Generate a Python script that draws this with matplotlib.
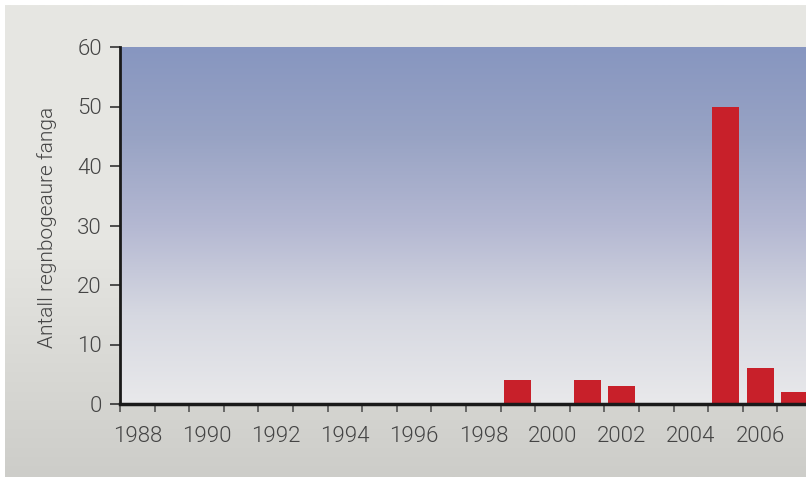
import numpy as np
import matplotlib.pyplot as plt
from matplotlib.colors import LinearSegmentedColormap

years = list(range(1988, 2008))
counts = [0, 0, 0, 0, 0, 0, 0, 0, 0, 0, 0, 4, 0, 4, 3, 0, 0, 50, 6, 2]
ylabel = 'Antall regnbogeaure fanga'

plt.rcParams['font.family'] = ['Roboto', 'DejaVu Sans']
plt.rcParams['font.weight'] = 300

W, H = 806, 479
fig = plt.figure(figsize=(W / 100, H / 100), dpi=100)
fig.patch.set_facecolor('white')

# outer grey panel with a soft vertical gradient
bg = fig.add_axes([5 / W, 2 / H, 1 - 5 / W, 1 - 7 / H])
bg_cmap = LinearSegmentedColormap.from_list('bg', ['#cdcdc9', '#e6e6e2', '#e7e7e3'])
bg.imshow(np.linspace(0, 1, 256).reshape(-1, 1), cmap=bg_cmap, aspect='auto',
          origin='lower', extent=[0, 1, 0, 1])
bg.axis('off')

# plot area (extends a little past the right edge, as in the original crop)
left, right, top, bottom = 120, 812, 47, 404
ax = fig.add_axes([left / W, (H - bottom) / H, (right - left) / W, (bottom - top) / H])
grad = LinearSegmentedColormap.from_list(
    'plot', ['#e9e9eb', '#d6d8e1', '#b4b8d2', '#98a3c4', '#8796c0'])
ax.imshow(np.linspace(0, 1, 256).reshape(-1, 1), cmap=grad, aspect='auto',
          origin='lower', extent=[-0.5, len(years) - 0.5, 0, 60], zorder=0)

x = np.arange(len(years))
ax.bar(x, counts, width=0.78, color='#c8202a', zorder=2)

ax.set_xlim(-0.5, len(years) - 0.5)
ax.set_ylim(0, 60)

for s in ['top', 'right']:
    ax.spines[s].set_visible(False)
ax.spines['left'].set_linewidth(2)
ax.spines['bottom'].set_linewidth(2.5)
ax.spines['left'].set_color('#1a1a1a')
ax.spines['bottom'].set_color('#1a1a1a')

ax.set_yticks(range(0, 61, 10))
ax.tick_params(axis='y', length=7, width=1.2, color='#333333', labelsize=16,
               labelcolor='#444444', pad=6)
ax.set_xticks(x[::2])
ax.set_xticklabels([str(y) for y in years[::2]])
ax.set_xticks(np.arange(-0.5, len(years)), minor=True)
ax.tick_params(axis='x', which='major', length=0, labelsize=16, labelcolor='#444444', pad=16)
ax.tick_params(axis='x', which='minor', length=6, width=1.2, color='#555555')

fig.text(47 / W, 1 - 227 / H, ylabel, rotation=90, ha='center', va='center',
         fontsize=15, color='#444444')

fig.savefig('out.png', dpi=100)
